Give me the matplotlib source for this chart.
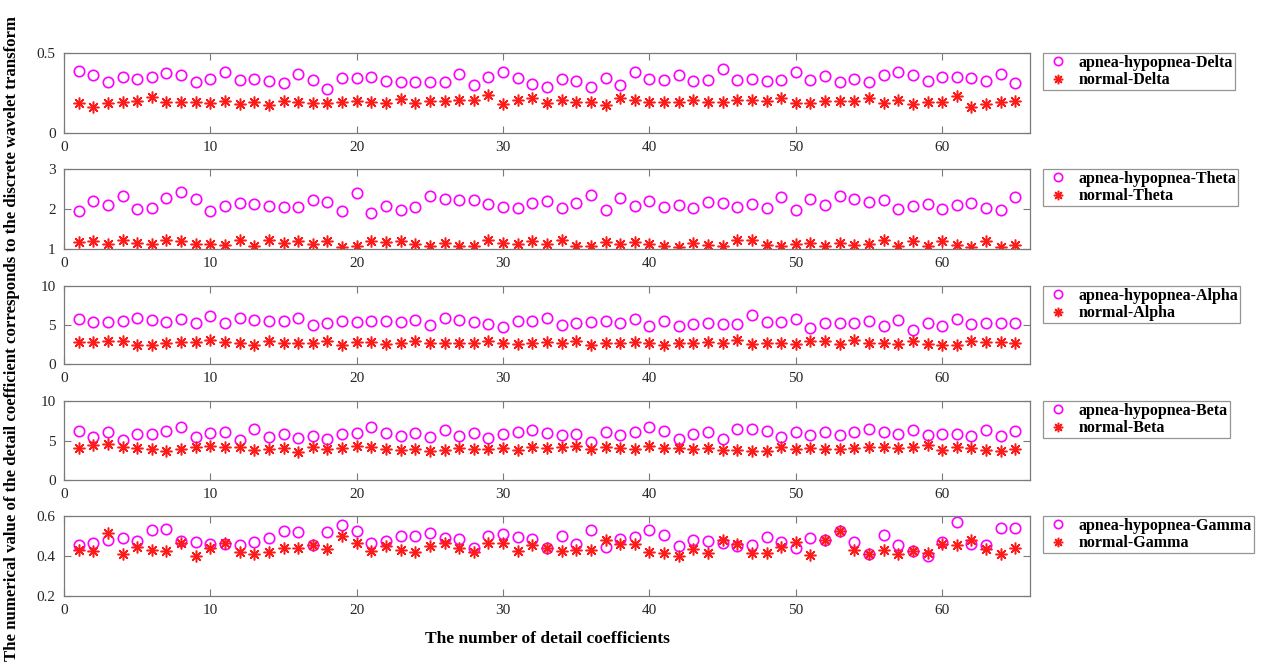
import matplotlib
matplotlib.use("Agg")
import matplotlib.pyplot as plt
import numpy as np

plt.rcParams['font.family'] = ['Liberation Serif', 'DejaVu Serif']

# detail coefficient index 1..65
n = np.arange(1, 66)

delta_apnea = [0.39, 0.363, 0.32, 0.347, 0.34, 0.353, 0.378, 0.361, 0.32, 0.336,
               0.382, 0.332, 0.34, 0.328, 0.311, 0.368, 0.334, 0.277, 0.342, 0.342,
               0.349, 0.328, 0.321, 0.317, 0.317, 0.317, 0.368, 0.298, 0.353, 0.382,
               0.342, 0.305, 0.29, 0.336, 0.326, 0.29, 0.342, 0.30, 0.38, 0.338,
               0.332, 0.363, 0.324, 0.332, 0.403, 0.332, 0.336, 0.324, 0.332, 0.384,
               0.332, 0.359, 0.319, 0.336, 0.321, 0.363, 0.382, 0.363, 0.328, 0.353,
               0.349, 0.342, 0.324, 0.37, 0.315]
delta_normal = [0.189, 0.164, 0.189, 0.195, 0.2, 0.223, 0.193, 0.193, 0.193, 0.187,
                0.202, 0.183, 0.193, 0.176, 0.2, 0.191, 0.189, 0.185, 0.191, 0.197,
                0.195, 0.187, 0.21, 0.189, 0.2, 0.197, 0.204, 0.204, 0.235, 0.183,
                0.204, 0.216, 0.185, 0.206, 0.193, 0.193, 0.174, 0.22, 0.206, 0.195,
                0.195, 0.195, 0.206, 0.195, 0.195, 0.206, 0.204, 0.2, 0.216, 0.189,
                0.185, 0.197, 0.202, 0.197, 0.22, 0.185, 0.206, 0.183, 0.193, 0.195,
                0.233, 0.164, 0.181, 0.193, 0.202]

theta_apnea = [1.94, 2.2, 2.09, 2.32, 2.01, 2.03, 2.28, 2.42, 2.25, 1.95,
               2.07, 2.16, 2.13, 2.07, 2.04, 2.04, 2.23, 2.17, 1.95, 2.4,
               1.89, 2.08, 1.98, 2.04, 2.33, 2.26, 2.22, 2.23, 2.13, 2.04,
               2.03, 2.14, 2.19, 2.03, 2.15, 2.36, 1.97, 2.28, 2.07, 2.21,
               2.05, 2.11, 2.03, 2.18, 2.15, 2.04, 2.13, 2.03, 2.29, 1.98,
               2.25, 2.09, 2.33, 2.26, 2.18, 2.22, 2.01, 2.07, 2.13, 2.0,
               2.09, 2.15, 2.03, 1.98, 2.3]
theta_normal = [1.17, 1.19, 1.12, 1.22, 1.15, 1.12, 1.22, 1.19, 1.12, 1.12,
                1.11, 1.22, 1.08, 1.22, 1.14, 1.19, 1.12, 1.19, 1.05, 1.08,
                1.19, 1.17, 1.19, 1.12, 1.08, 1.15, 1.08, 1.08, 1.22, 1.15,
                1.12, 1.21, 1.12, 1.22, 1.08, 1.07, 1.17, 1.12, 1.17, 1.13,
                1.07, 1.05, 1.15, 1.11, 1.08, 1.22, 1.23, 1.11, 1.08, 1.13,
                1.15, 1.07, 1.15, 1.1, 1.12, 1.22, 1.08, 1.19, 1.08, 1.19,
                1.11, 1.05, 1.19, 1.05, 1.11]

alpha_apnea = [5.76, 5.34, 5.34, 5.47, 5.93, 5.64, 5.42, 5.72, 5.3, 6.14,
               5.21, 5.89, 5.64, 5.55, 5.55, 5.85, 5.0, 5.25, 5.47, 5.34,
               5.47, 5.51, 5.34, 5.59, 5.0, 5.93, 5.64, 5.42, 5.13, 4.7,
               5.55, 5.48, 5.88, 5.04, 5.21, 5.33, 5.46, 5.25, 5.83, 4.92,
               5.46, 4.92, 5.13, 5.21, 5.13, 5.13, 6.25, 5.33, 5.33, 5.83,
               4.63, 5.21, 5.29, 5.21, 5.54, 4.92, 5.63, 4.42, 5.21, 4.83,
               5.83, 5.13, 5.29, 5.21, 5.21]
alpha_normal = [2.8, 2.8, 2.92, 2.92, 2.5, 2.5, 2.71, 2.88, 2.88, 3.05,
                2.84, 2.71, 2.5, 3.0, 2.67, 2.75, 2.71, 2.97, 2.5, 2.84,
                2.88, 2.54, 2.67, 2.97, 2.67, 2.67, 2.67, 2.67, 2.97, 2.67,
                2.58, 2.7, 2.83, 2.63, 2.96, 2.46, 2.71, 2.63, 2.83, 2.71,
                2.42, 2.71, 2.63, 2.83, 2.75, 3.04, 2.54, 2.63, 2.63, 2.54,
                2.92, 2.96, 2.54, 3.04, 2.71, 2.71, 2.54, 2.92, 2.54, 2.42,
                2.42, 2.96, 2.83, 2.83, 2.63]

beta_apnea = [6.24, 5.49, 6.12, 5.06, 5.82, 5.78, 6.24, 6.67, 5.49, 5.99,
              6.08, 5.06, 6.46, 5.49, 5.82, 5.36, 5.57, 5.23, 5.78, 5.91,
              6.67, 5.91, 5.57, 5.99, 5.49, 6.33, 5.61, 5.91, 5.36, 5.82,
              6.03, 6.33, 5.91, 5.7, 5.78, 4.85, 6.12, 5.7, 6.03, 6.75,
              6.2, 5.15, 5.78, 6.03, 5.19, 6.41, 6.41, 6.2, 5.49, 6.12,
              5.7, 6.12, 5.7, 6.03, 6.41, 6.03, 5.82, 6.33, 5.7, 5.82,
              5.82, 5.57, 6.33, 5.57, 6.2]
beta_normal = [4.09, 4.39, 4.56, 4.18, 4.09, 3.88, 3.71, 3.88, 4.14, 4.3,
               4.14, 4.22, 3.8, 3.88, 4.01, 3.59, 4.22, 3.92, 4.01, 4.3,
               4.14, 3.92, 3.8, 3.92, 3.71, 3.8, 4.01, 3.88, 3.92, 4.01,
               3.8, 4.22, 4.01, 4.22, 4.35, 3.92, 4.22, 4.09, 3.92, 4.3,
               4.09, 4.09, 3.92, 4.09, 3.8, 3.8, 3.67, 3.67, 4.22, 3.92,
               4.09, 3.92, 3.92, 4.01, 4.22, 4.14, 4.01, 4.22, 4.43, 3.8,
               4.22, 4.09, 3.8, 3.67, 3.88]

gamma_apnea = [0.455, 0.467, 0.48, 0.492, 0.477, 0.53, 0.533, 0.475, 0.468, 0.46,
               0.46, 0.455, 0.468, 0.492, 0.523, 0.52, 0.455, 0.522, 0.555, 0.527,
               0.463, 0.477, 0.502, 0.502, 0.517, 0.492, 0.485, 0.44, 0.5, 0.508,
               0.493, 0.487, 0.442, 0.502, 0.461, 0.531, 0.445, 0.487, 0.494, 0.531,
               0.505, 0.45, 0.479, 0.474, 0.466, 0.45, 0.453, 0.496, 0.469, 0.442,
               0.491, 0.479, 0.527, 0.469, 0.409, 0.507, 0.453, 0.425, 0.398, 0.471,
               0.569, 0.458, 0.453, 0.54, 0.538]
gamma_normal = [0.43, 0.425, 0.513, 0.41, 0.443, 0.43, 0.427, 0.463, 0.402, 0.438,
                0.463, 0.422, 0.41, 0.418, 0.438, 0.442, 0.455, 0.433, 0.5, 0.463,
                0.425, 0.452, 0.43, 0.422, 0.45, 0.463, 0.442, 0.418, 0.467, 0.467,
                0.427, 0.455, 0.442, 0.425, 0.429, 0.429, 0.479, 0.458, 0.458, 0.422,
                0.417, 0.398, 0.437, 0.414, 0.479, 0.461, 0.414, 0.414, 0.445, 0.469,
                0.406, 0.479, 0.527, 0.429, 0.412, 0.429, 0.412, 0.425, 0.417, 0.458,
                0.455, 0.482, 0.433, 0.409, 0.442]

bands = ['Delta', 'Theta', 'Alpha', 'Beta', 'Gamma']
apnea = [delta_apnea, theta_apnea, alpha_apnea, beta_apnea, gamma_apnea]
normal = [delta_normal, theta_normal, alpha_normal, beta_normal, gamma_normal]
ylims = [(0, 0.5), (1, 3), (0, 10), (0, 10), (0.2, 0.6)]
yticks = [[0, 0.5], [1, 2, 3], [0, 5, 10], [0, 5, 10], [0.2, 0.4, 0.6]]
yticklabels = [['0', '0.5'], ['1', '2', '3'], ['0', '5', '10'], ['0', '5', '10'],
               ['0.2', '0.4', '0.6']]

W, H = 1261, 671
fig = plt.figure(figsize=(W / 100, H / 100), dpi=100)

# axes box positions in pixels (top, bottom)
boxes = [(53, 133), (169, 249), (286, 364), (401, 480), (516, 596)]
left_px, right_px = 64, 1030
asterisk = (8, 2, 0)
frame_col = '#7a7a7a'

for i, band in enumerate(bands):
    top, bot = boxes[i]
    ax = fig.add_axes([left_px / W, 1 - bot / H, (right_px - left_px) / W, (bot - top) / H])
    ax.plot(n, apnea[i], 'o', ls='none', mfc='none', mec='#ff00ff', ms=7.5, mew=1.2,
            label='apnea-hypopnea-' + band)
    ax.plot(n, normal[i], ls='none', marker=asterisk, color='#ff1a1a', ms=8.5, mew=1.1,
            label='normal-' + band)
    ax.set_xlim(0, 66)
    ax.set_ylim(*ylims[i])
    ax.set_xticks([0, 10, 20, 30, 40, 50, 60])
    ax.set_yticks(yticks[i])
    ax.set_yticklabels(yticklabels[i])
    ax.tick_params(direction='in', top=True, right=True, length=5, width=0.8,
                   color=frame_col, labelsize=11, labelcolor='#262626', pad=6)
    for s in ax.spines.values():
        s.set_color(frame_col)
        s.set_linewidth(0.9)
    leg = ax.legend(loc='upper left', bbox_to_anchor=(1.0135, 1.0), frameon=True,
                    fancybox=False, edgecolor=frame_col, borderaxespad=0,
                    prop={'weight': 'bold', 'size': 11.5}, handlelength=1.6,
                    handletextpad=0.5, borderpad=0.12, labelspacing=0.08,
                    markerscale=0.8)
    leg.get_frame().set_linewidth(0.9)
    if i == 4:
        ax.set_xlabel('The number of detail coefficients', fontsize=12.5,
                      fontweight='bold', labelpad=10)

fig.text(0.0095, 0.495,
         'The numerical value of the detail coefficient corresponds to the discrete wavelet transform',
         rotation=90, ha='center', va='center', fontsize=12.1, fontweight='bold')

fig.savefig('out.png', dpi=100)
